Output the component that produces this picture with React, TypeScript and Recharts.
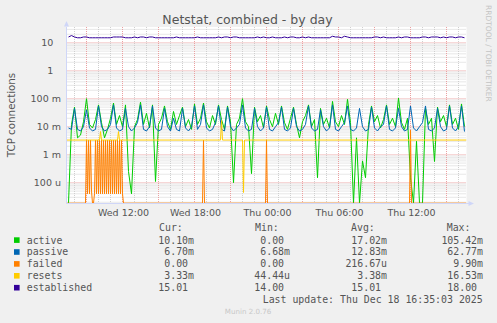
import React from 'react';
import { LineChart, Line, XAxis, YAxis, CartesianGrid } from 'recharts';

// 15 minute samples, hours counted from Wed 00:00
const START_HOUR = 7.5;
const STEP_HOUR = 0.25;

// values in milli connections
const active = [
  0, 12, 50, 4, 5, 15, 100, 12, 9, 18,
  60, 14, 4, 8, 20, 70, 12, 25, 10, 60,
  0.25, 0.04, 10, 18, 75, 12, 30, 9, 60, 0.11,
  12, 20, 55, 15, 8, 35, 12, 25, 50, 10,
  18, 8, 65, 12, 20, 70, 15, 9, 25, 12,
  60, 18, 8, 55, 15, 0.1, 12, 20, 100, 15,
  10, 0.21, 50, 15, 25, 9, 55, 18, 10, 30,
  12, 55, 14, 8, 20, 50, 12, 4, 15, 25,
  60, 10, 18, 0.15, 45, 12, 20, 9, 80, 15,
  10, 25, 12, 95, 14, 0, 4, 0, 0.6, 0.15,
  12, 55, 15, 25, 9, 18, 60, 12, 20, 10,
  105, 14, 8, 20, 0.15, 0, 3, 0, 0, 45,
  12, 20, 0.57, 50, 15, 25, 10, 60, 12, 20,
  8, 65, 10.1,
];

const passive = [
  9, 8, 45, 8, 7, 10, 40, 9, 7, 8,
  55, 10, 7, 8, 12, 60, 9, 7, 8, 45,
  10, 7, 9, 14, 60, 8, 7, 10, 55, 9,
  7, 8, 45, 10, 7, 20, 8, 7, 45, 9,
  7, 10, 55, 8, 12, 60, 9, 7, 8, 14,
  55, 8, 7, 50, 10, 7, 9, 12, 60, 9,
  7, 8, 45, 10, 7, 9, 50, 8, 7, 10,
  14, 50, 8, 7, 9, 45, 10, 7, 8, 12,
  55, 9, 7, 8, 40, 10, 7, 9, 60, 8,
  7, 10, 14, 55, 8, 7, 9, 45, 10, 7,
  8, 50, 9, 7, 10, 12, 55, 8, 7, 9,
  45, 10, 7, 8, 55, 9, 7, 10, 14, 55,
  8, 7, 9, 45, 10, 7, 8, 55, 9, 7,
  10, 55, 6.7,
];

// plain connection counts
const established = [
  16, 18, 16, 15, 15, 16, 16, 15, 15, 15,
  15, 15, 15, 15, 15, 16, 16, 16, 16, 15,
  15, 15, 16, 15, 16, 16, 15, 16, 16, 15,
  15, 15, 15, 15, 15, 15, 16, 15, 15, 15,
  15, 15, 15, 16, 15, 15, 15, 15, 15, 15,
  16, 15, 16, 16, 15, 16, 16, 15, 15, 15,
  15, 15, 15, 16, 15, 16, 15, 15, 16, 15,
  15, 15, 16, 15, 16, 16, 15, 15, 16, 15,
  16, 15, 15, 15, 15, 15, 15, 15, 17, 16,
  16, 15, 17, 16, 15, 15, 15, 15, 15, 15,
  15, 15, 16, 16, 15, 16, 15, 15, 15, 15,
  16, 15, 16, 16, 15, 15, 15, 15, 16, 16,
  15, 16, 16, 16, 15, 16, 15, 16, 16, 15,
  16, 16, 15,
];

const hm = (h: number, m: number) => h + m / 60;

// [hour, milli]
const failed: [number, number][] = [
  [hm(7, 20), 0], [hm(8, 55), 0],
  [hm(9, 0), 3.33], [hm(9, 5), 0.04], [hm(9, 10), 3.33], [hm(9, 15), 0.04], [hm(9, 20), 3.33], [hm(9, 25), 0.05],
  [hm(9, 30), 0], [hm(9, 35), 0], [hm(9, 40), 0.04], [hm(9, 45), 3.33], [hm(9, 50), 0.04], [hm(9, 55), 3.33],
  [hm(10, 0), 0.04], [hm(10, 5), 3.33], [hm(10, 10), 0.04], [hm(10, 15), 3.33], [hm(10, 20), 0.04], [hm(10, 25), 3.33],
  [hm(10, 30), 0.04], [hm(10, 35), 3.33], [hm(10, 40), 0.04], [hm(10, 45), 3.33], [hm(10, 50), 0.04], [hm(10, 55), 3.33],
  [hm(11, 0), 0.04], [hm(11, 5), 3.33], [hm(11, 10), 0.04], [hm(11, 15), 3.33], [hm(11, 20), 0.04], [hm(11, 25), 3.33],
  [hm(11, 30), 0.04], [hm(11, 35), 3.33], [hm(11, 40), 0.04], [hm(11, 45), 3.33], [hm(11, 50), 0.04], [hm(11, 55), 3.33],
  [hm(12, 0), 0.04], [hm(12, 5), 0],
  [hm(18, 40), 0], [hm(18, 45), 3.33], [hm(18, 50), 0],
  [hm(23, 55), 0], [hm(24, 0), 3.33], [hm(24, 5), 0],
  [hm(35, 55), 0], [hm(36, 0), 7.5], [hm(36, 5), 0],
  [hm(40, 40), 0],
];

const resets: [number, number][] = [
  [hm(7, 20), 3.33], [hm(10, 5), 3.33], [hm(10, 10), 6.7], [hm(10, 15), 3.33],
  [hm(11, 35), 3.33], [hm(11, 40), 6.7], [hm(11, 45), 3.33],
  [hm(20, 10), 3.33], [hm(20, 15), 16.53], [hm(20, 20), 3.33],
  [hm(22, 0), 3.33], [hm(22, 5), 0.04444], [hm(22, 10), 3.33],
  [hm(40, 40), 3.33],
];

const xTicks = [12, 18, 24, 30, 36];
const xTickLabels = ['Wed 12:00', 'Wed 18:00', 'Thu 00:00', 'Thu 06:00', 'Thu 12:00'];
const yTicks = [1e-4, 1e-3, 1e-2, 0.1, 1, 10];
const yTickLabels = ['100 u', '1 m', '10 m', '100 m', '1', '10'];

const seriesNames = ['active', 'passive', 'failed', 'resets', 'established'];
const seriesColors = ['#00CC00', '#0066B3', '#FF8000', '#FFCC00', '#330099'];
const curText = ['10.10m', '6.70m', '0.00', '3.33m', '15.01'];
const minText = ['0.00', '6.68m', '0.00', '44.44u', '14.00'];
const avgText = ['17.02m', '12.83m', '216.67u', '3.38m', '15.01'];
const maxText = ['105.42m', '62.77m', '9.90m', '16.53m', '18.00'];

const X_MIN = hm(7, 20);
const X_MAX = hm(40, 40);
const Y_MIN = 1.8e-5;
const Y_MAX = 36.4;
const ZERO_FLOOR = 1.85e-5; // zero can't sit on a log axis, rrdtool draws it at the bottom edge

const onLog = (v: number) => Math.max(v, ZERO_FLOOR);
const fromGrid = (vals: number[], k: number) =>
  vals.map((v, i) => ({ t: START_HOUR + i * STEP_HOUR, v: onLog(v * k) }));
const fromPairs = (pairs: [number, number][], k: number) =>
  pairs.map(([t, v]) => ({ t, v: onLog(v * k) }));

const activeData = fromGrid(active, 1e-3);
const passiveData = fromGrid(passive, 1e-3);
const establishedData = fromGrid(established, 1);
const failedData = fromPairs(failed, 1e-3);
const resetsData = fromPairs(resets, 1e-3);

const minorY: number[] = [];
const majorY: number[] = [];
for (let e = -5; e <= 1; e++) {
  for (let k = 1; k <= 9; k++) {
    const v = k * Math.pow(10, e);
    if (v <= Y_MIN || v >= Y_MAX) continue;
    (k === 1 ? majorY : minorY).push(v);
  }
}
const minorX: number[] = [];
const majorX: number[] = [];
for (let h = 8; h <= 40; h++) (h % 3 === 0 ? majorX : minorX).push(h);

const FONT = '"DejaVu Sans", sans-serif';
const MONO = '"DejaVu Sans Mono", monospace';
const TEXT = '#555555';
const AXIS = '#CFD6F8';

const YTick = (props: any) => {
  const { x, y, index } = props;
  const label = yTickLabels[index] ?? '';
  const unit = /[a-z]$/.test(label);
  return (
    <text x={x - (unit ? 5.5 : 13.2)} y={y} dy="0.35em" textAnchor="end" fontFamily={FONT} fontSize={9.5} fill={TEXT}>
      {label}
    </text>
  );
};

const XTick = (props: any) => {
  const { x, y, index } = props;
  return (
    <text x={x + 1} y={y + 12.5} textAnchor="middle" fontFamily={FONT} fontSize={9.5} fill={TEXT}>
      {xTickLabels[index]}
    </text>
  );
};

const CH = 5.96;
const rightCol = (s: string, right: number) => (/[a-zA-Z]$/.test(s) ? right : right - CH);

const Overlay: React.FC = () => {
  const rowY = (r: number) => 243.5 + r * 11.9;
  return (
    <svg width={497} height={323} style={{ position: 'absolute', left: 0, top: 0, pointerEvents: 'none' }}>
      <text x={247.5} y={24} textAnchor="middle" fontFamily={FONT} fontSize={12.5} fill={TEXT}>
        Netstat, combined - by day
      </text>
      <text transform="translate(15,115) rotate(-90)" textAnchor="middle" fontFamily={FONT} fontSize={10.3} fill={TEXT}>
        TCP connections
      </text>
      <text transform="translate(485.5,5) rotate(90)" fontFamily={FONT} fontSize={7.5} fill="#C4C4C4">
        RRDTOOL / TOBI OETIKER
      </text>
      <polygon points="66.5,21 64,26.5 69,26.5" fill={AXIS} />
      <polygon points="474,203.5 468.5,201 468.5,206" fill={AXIS} />
      <line x1={466.5} y1={203.5} x2={469} y2={203.5} stroke={AXIS} />

      <g fontFamily={MONO} fontSize={9.9} fill={TEXT}>
        <text x={159} y={231}>Cur:</text>
        <text x={255} y={231}>Min:</text>
        <text x={351} y={231}>Avg:</text>
        <text x={446.7} y={231}>Max:</text>
        {seriesNames.map((name, r) => (
          <g key={name}>
            <rect x={14} y={rowY(r) - 6.2} width={5.6} height={5.6} fill={seriesColors[r]} />
            <text x={26.7} y={rowY(r)}>{name}</text>
            <text x={rightCol(curText[r], 194)} y={rowY(r)} textAnchor="end">{curText[r]}</text>
            <text x={rightCol(minText[r], 290)} y={rowY(r)} textAnchor="end">{minText[r]}</text>
            <text x={rightCol(avgText[r], 387)} y={rowY(r)} textAnchor="end">{avgText[r]}</text>
            <text x={rightCol(maxText[r], 483)} y={rowY(r)} textAnchor="end">{maxText[r]}</text>
          </g>
        ))}
        <text x={482.7} y={303} textAnchor="end">Last update: Thu Dec 18 16:35:03 2025</text>
      </g>
      <text x={248} y={314.2} textAnchor="middle" fontFamily={FONT} fontSize={7.1} fill="#C8C8C8">
        Munin 2.0.76
      </text>
    </svg>
  );
};

const App: React.FC = () => {
  return (
    <div style={{ position: 'absolute', left: 0, top: 0, width: 497, height: 323, background: '#F0F0F0', overflow: 'hidden' }}>
      <LineChart width={497} height={323} margin={{ top: 27, right: 30.5, left: 6.5, bottom: 99.5 }}>
        <CartesianGrid fill="#FFFFFF" stroke="#CFCFCF" strokeDasharray="1 1" horizontalValues={minorY} verticalValues={minorX} syncWithTicks={false} />
        <CartesianGrid stroke="#EBA0A0" strokeDasharray="1 1" horizontalValues={majorY} verticalValues={majorX} syncWithTicks={false} />
        <XAxis
          type="number"
          dataKey="t"
          domain={[X_MIN, X_MAX]}
          ticks={xTicks}
          interval={0}
          height={20}
          tickSize={0}
          tickMargin={0}
          tickLine={false}
          axisLine={{ stroke: AXIS }}
          tick={<XTick />}
          allowDataOverflow
        />
        <YAxis
          type="number"
          scale="log"
          domain={[Y_MIN, Y_MAX]}
          ticks={yTicks}
          interval={0}
          width={60}
          tickSize={0}
          tickMargin={0}
          tickLine={false}
          axisLine={{ stroke: AXIS }}
          tick={<YTick />}
          allowDataOverflow
        />
        <Line data={activeData} dataKey="v" name="active" type="linear" stroke="#00CC00" strokeWidth={1} dot={false} activeDot={false} isAnimationActive={false} />
        <Line data={passiveData} dataKey="v" name="passive" type="linear" stroke="#0066B3" strokeWidth={1} dot={false} activeDot={false} isAnimationActive={false} />
        <Line data={failedData} dataKey="v" name="failed" type="linear" stroke="#FF8000" strokeWidth={1} dot={false} activeDot={false} isAnimationActive={false} />
        <Line data={resetsData} dataKey="v" name="resets" type="linear" stroke="#FFCC00" strokeWidth={1} dot={false} activeDot={false} isAnimationActive={false} />
        <Line data={establishedData} dataKey="v" name="established" type="linear" stroke="#330099" strokeWidth={1} dot={false} activeDot={false} isAnimationActive={false} />
      </LineChart>
      <Overlay />
    </div>
  );
};

export default App;
